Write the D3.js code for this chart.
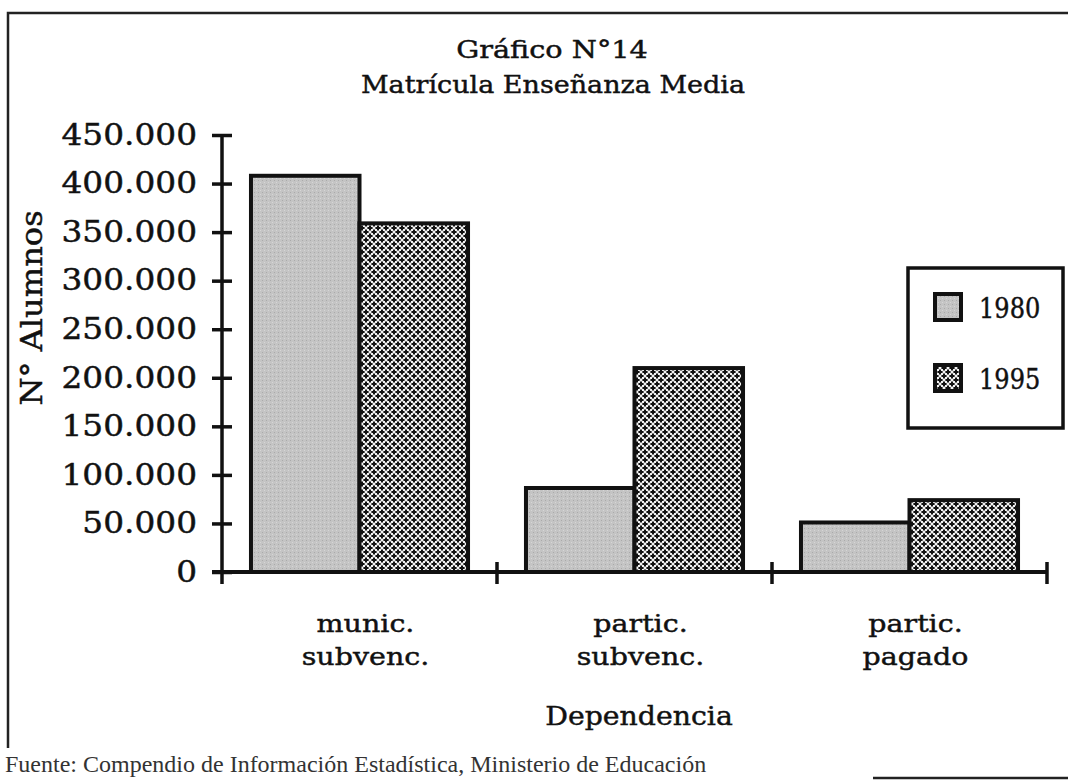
<!DOCTYPE html>
<html>
<head>
<meta charset="utf-8">
<script src="https://cdn.jsdelivr.net/npm/d3@7"></script>
<style>
  body { margin: 0; background: #fff; }
  svg text { font-family: "DejaVu Serif", "Liberation Serif", serif; fill: #111; stroke: #111; stroke-width: 0.45px; }
</style>
</head>
<body>
<svg width="1068" height="780"></svg>
<script>
var categories = ["munic. subvenc.", "partic. subvenc.", "partic. pagado"];
var catLines = [["munic.", "subvenc."], ["partic.", "subvenc."], ["partic.", "pagado"]];
var years = ["1980", "1995"];
var values1980 = [408000, 86500, 51000];
var values1995 = [359000, 210000, 74000];
var yTicks = [0, 50000, 100000, 150000, 200000, 250000, 300000, 350000, 400000, 450000];

var svg = d3.select("svg");
var loc = d3.formatLocale({decimal: ",", thousands: ".", grouping: [3], currency: ["$", ""]});
var fmt = loc.format(",d");

// text helper: the original's lettering is wider than DejaVu, so stretch it horizontally
function label(parent, x, y, str, size, sx, anchor) {
  return parent.append("text")
    .attr("transform", "translate(" + x + "," + y + ") scale(" + sx + ",1)")
    .attr("text-anchor", anchor || "middle").attr("font-size", size).text(str);
}

// patterns
var defs = svg.append("defs");
var p1 = defs.append("pattern").attr("id", "gray").attr("patternUnits", "userSpaceOnUse")
    .attr("width", 4).attr("height", 4);
p1.append("rect").attr("width", 4).attr("height", 4).attr("fill", "#c4c4c4");
p1.append("rect").attr("x", 0).attr("y", 0).attr("width", 1).attr("height", 1).attr("fill", "#aaa");
p1.append("rect").attr("x", 2).attr("y", 2).attr("width", 1).attr("height", 1).attr("fill", "#d6d6d6");

var p2 = defs.append("pattern").attr("id", "hatch").attr("patternUnits", "userSpaceOnUse")
    .attr("width", 8).attr("height", 8);
p2.append("rect").attr("width", 8).attr("height", 8).attr("fill", "#f2f2f2");
function plus(cx, cy) {
  return "M" + (cx - 1) + "," + (cy - 2.6) + "h2v1.6h1.6v2h-1.6v1.6h-2v-1.6h-1.6v-2h1.6z";
}
[[4, 4], [0, 0], [8, 0], [0, 8], [8, 8]].forEach(function(c) {
  p2.append("path").attr("d", plus(c[0], c[1])).attr("fill", "#111");
});

// frame
svg.append("rect").attr("x", 8).attr("y", 13).attr("width", 1080).attr("height", 765)
  .attr("fill", "none").attr("stroke", "#222").attr("stroke-width", 2.5);

var x0 = d3.scaleBand().domain(categories).range([222, 1047]).padding(0);
var x1 = d3.scaleBand().domain(years).range([0, x0.bandwidth()]).paddingInner(0).paddingOuter(0.267);
var y = d3.scaleLinear().domain([0, 450000]).range([572, 135]);

// titles
label(svg, 552, 58, "Gráfico N°14", 25, 1.15);
label(svg, 553, 93, "Matrícula Enseñanza Media", 25, 1.08);

// bars
var rows = categories.map(function(c, i) {
  return {cat: c, vals: [{year: "1980", v: values1980[i]}, {year: "1995", v: values1995[i]}]};
});
var g = svg.append("g");
g.selectAll(".grp").data(rows).enter().append("g")
  .attr("transform", function(d) { return "translate(" + x0(d.cat) + ",0)"; })
  .selectAll("rect").data(function(d) { return d.vals; }).enter().append("rect")
  .attr("x", function(d) { return x1(d.year); })
  .attr("y", function(d) { return y(d.v); })
  .attr("width", x1.bandwidth())
  .attr("height", function(d) { return y(0) - y(d.v); })
  .attr("fill", function(d) { return d.year === "1980" ? "url(#gray)" : "url(#hatch)"; })
  .attr("stroke", "#111").attr("stroke-width", 4);

// y axis
var yAxis = svg.append("g").attr("transform", "translate(222,0)")
  .call(d3.axisLeft(y).tickValues(yTicks).tickFormat(fmt).tickSizeOuter(0).tickSize(10).tickPadding(15));
yAxis.select(".domain").attr("stroke", "#111").attr("stroke-width", 3.5)
  .attr("d", "M0," + (y(450000) - 1) + "V" + (y(0) + 12));
yAxis.selectAll(".tick line").attr("x1", -10).attr("x2", 10).attr("stroke", "#111").attr("stroke-width", 3.5);
yAxis.selectAll(".tick text").attr("font-size", 29).attr("font-family", null).attr("fill", null)
  .attr("x", 0).attr("transform", "translate(-25,0) scale(1.13,1)");

// x axis
svg.append("line").attr("x1", 212).attr("x2", 1047).attr("y1", y(0)).attr("y2", y(0))
  .attr("stroke", "#111").attr("stroke-width", 4);
svg.selectAll(".xtick").data(categories).enter().append("line")
  .attr("x1", function(d) { return x0(d) + x0.bandwidth(); })
  .attr("x2", function(d) { return x0(d) + x0.bandwidth(); })
  .attr("y1", y(0) - 10).attr("y2", y(0) + 12)
  .attr("stroke", "#111").attr("stroke-width", 3.5);

// category labels
categories.forEach(function(c, i) {
  var cx = x0(c) + x0.bandwidth() / 2 + 6;
  catLines[i].forEach(function(l, k) {
    label(svg, cx, 632 + k * 33, l, 25, 1.14);
  });
});

// axis titles
label(svg, 639, 725, "Dependencia", 26, 1.09);
svg.append("text").attr("transform", "translate(42,308) rotate(-90) scale(1.07,1)")
  .attr("text-anchor", "middle").attr("font-size", 30).text("N° Alumnos");

// legend
var leg = svg.append("g");
leg.append("rect").attr("x", 908).attr("y", 268).attr("width", 155).attr("height", 160)
  .attr("fill", "#fff").attr("stroke", "#111").attr("stroke-width", 3.5);
years.forEach(function(yr, i) {
  var ly = 292 + i * 71;
  leg.append("rect").attr("x", 935).attr("y", ly + 2).attr("width", 26).attr("height", 26)
    .attr("fill", i === 0 ? "url(#gray)" : "url(#hatch)")
    .attr("stroke", "#111").attr("stroke-width", 4);
  label(leg, 979, ly + 26, yr, 28, 0.86, "start");
});

// source note
svg.append("rect").attr("x", 0).attr("y", 748).attr("width", 873).attr("height", 32).attr("fill", "#fff");
svg.append("text").attr("x", 5).attr("y", 772)
  .attr("style", "font-family: 'Liberation Serif'; font-size: 24px; fill: #333; stroke: none;")
  .text("Fuente: Compendio de Información Estadística, Ministerio de Educación");
</script>
</body>
</html>
